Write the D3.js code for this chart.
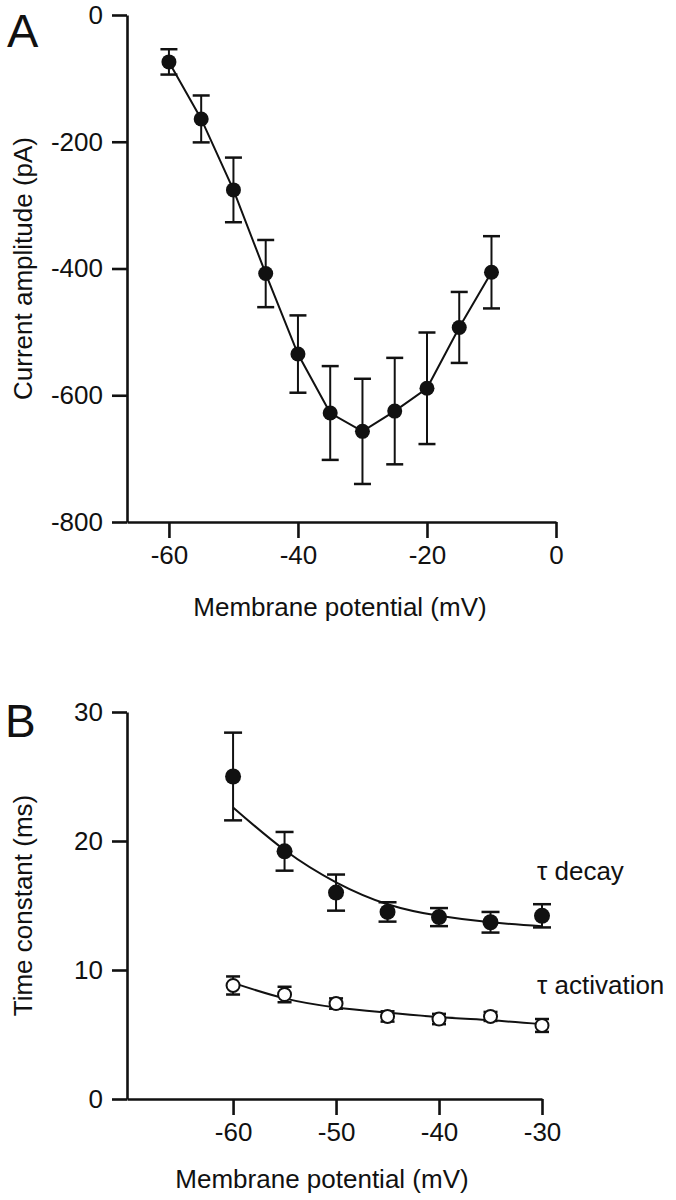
<!DOCTYPE html>
<html>
<head>
<meta charset="utf-8">
<script src="https://cdn.jsdelivr.net/npm/d3@7"></script>
<style>
    body { margin: 0; background: #fff; }
    svg text { font-family: "Liberation Sans", Arial, sans-serif; fill: #111; }
</style>
</head>
<body>
<div id="chart"></div>
<script>
// Panel A: current-voltage relation
const voltageA = [-60, -55, -50, -45, -40, -35, -30, -25, -20, -15, -10];
const currentA = [-74, -164, -276, -408, -535, -628, -657, -625, -589, -493, -406];
const currentErrA = [20, 37, 51, 53, 61, 74, 83, 84, 88, 56, 57];
const yTicksA = [0, -200, -400, -600, -800];
const xTicksA = [-60, -40, -20, 0];

// Panel B: time constants
const voltageB = [-60, -55, -50, -45, -40, -35, -30];
const tauDecay = [25.0, 19.2, 16.0, 14.5, 14.1, 13.7, 14.2];
const tauDecayErr = [3.4, 1.5, 1.4, 0.75, 0.7, 0.8, 0.9];
const tauDecayFit = [22.6, 19.3, 16.8, 15.1, 14.2, 13.7, 13.4];
const tauAct = [8.8, 8.1, 7.4, 6.4, 6.2, 6.4, 5.7];
const tauActErr = [0.7, 0.6, 0.4, 0.4, 0.4, 0.35, 0.5];
const tauActFit = [9.0, 7.8, 7.1, 6.7, 6.35, 6.1, 5.8];
const yTicksB = [0, 10, 20, 30];
const xTicksB = [-60, -50, -40, -30];

const W = 676, H = 1200;
const fontSize = 26;

const svg = d3.select("#chart")
    .append("svg")
    .attr("width", W)
    .attr("height", H);

// draw axes for one panel
function drawAxes(g, x, y, xTicks, yTicks) {
    const xAxis = d3.axisBottom(x)
        .tickValues(xTicks)
        .tickSize(16)
        .tickSizeOuter(0)
        .tickPadding(8)
        .tickFormat(d => String(d));
    const yAxis = d3.axisLeft(y)
        .tickValues(yTicks)
        .tickSize(15)
        .tickSizeOuter(0)
        .tickPadding(9)
        .tickFormat(d => String(d));

    const xg = g.append("g")
        .attr("transform", `translate(0,${y.range()[0]})`)
        .call(xAxis);
    const yg = g.append("g")
        .attr("transform", `translate(${x.range()[0]},0)`)
        .call(yAxis);

    [xg, yg].forEach(a => {
        a.selectAll("path, line")
            .attr("stroke", "#111")
            .attr("stroke-width", 2.6);
        a.selectAll("text")
            .style("font-size", fontSize + "px")
            .attr("fill", "#111");
    });
}

// error bars with caps
function drawErrors(g, pts, x, y, capW) {
    const eb = g.append("g").attr("stroke", "#111").attr("stroke-width", 2);
    pts.forEach(p => {
        eb.append("line")
            .attr("x1", x(p.v)).attr("x2", x(p.v))
            .attr("y1", y(p.m + p.e)).attr("y2", y(p.m - p.e));
        [p.m + p.e, p.m - p.e].forEach(val => {
            eb.append("line")
                .attr("x1", x(p.v) - capW / 2).attr("x2", x(p.v) + capW / 2)
                .attr("y1", y(val)).attr("y2", y(val))
                .attr("stroke-width", 2.5);
        });
    });
}

// ---------- Panel A ----------
const gA = svg.append("g").attr("class", "panel-a");
const xA = d3.scaleLinear().domain([-66.5, 0]).range([127, 556]);
const yA = d3.scaleLinear().domain([-800, 0]).range([522, 15]);

drawAxes(gA, xA, yA, xTicksA, yTicksA);

const ptsA = voltageA.map((v, i) => ({v: v, m: currentA[i], e: currentErrA[i]}));

drawErrors(gA, ptsA, xA, yA, 17);

gA.append("path")
    .datum(ptsA)
    .attr("fill", "none")
    .attr("stroke", "#111")
    .attr("stroke-width", 2)
    .attr("d", d3.line().x(d => xA(d.v)).y(d => yA(d.m)));

gA.selectAll(".dot-a")
    .data(ptsA)
    .join("circle")
    .attr("class", "dot-a")
    .attr("cx", d => xA(d.v))
    .attr("cy", d => yA(d.m))
    .attr("r", 7.5)
    .attr("fill", "#111");

gA.append("text")
    .attr("x", 7).attr("y", 47)
    .style("font-size", "47px")
    .text("A");

gA.append("text")
    .attr("transform", `translate(32,${(yA.range()[0] + yA.range()[1]) / 2}) rotate(-90)`)
    .attr("text-anchor", "middle")
    .style("font-size", fontSize + "px")
    .text("Current amplitude (pA)");

gA.append("text")
    .attr("x", 340).attr("y", 616)
    .attr("text-anchor", "middle")
    .style("font-size", fontSize + "px")
    .text("Membrane potential (mV)");

// ---------- Panel B ----------
const gB = svg.append("g").attr("class", "panel-b");
const xB = d3.scaleLinear().domain([-70.3, -30]).range([127, 542]);
const yB = d3.scaleLinear().domain([0, 30]).range([1099, 712]);

drawAxes(gB, xB, yB, xTicksB, yTicksB);

const ptsDecay = voltageB.map((v, i) => ({v: v, m: tauDecay[i], e: tauDecayErr[i], f: tauDecayFit[i]}));
const ptsAct = voltageB.map((v, i) => ({v: v, m: tauAct[i], e: tauActErr[i], f: tauActFit[i]}));

const fitLine = d3.line()
    .x(d => xB(d.v))
    .y(d => yB(d.f))
    .curve(d3.curveNatural);

drawErrors(gB, ptsDecay, xB, yB, 18);
drawErrors(gB, ptsAct, xB, yB, 14);

[ptsDecay, ptsAct].forEach(pts => {
    gB.append("path")
        .datum(pts)
        .attr("fill", "none")
        .attr("stroke", "#111")
        .attr("stroke-width", 2)
        .attr("d", fitLine);
});

gB.selectAll(".dot-decay")
    .data(ptsDecay)
    .join("circle")
    .attr("class", "dot-decay")
    .attr("cx", d => xB(d.v))
    .attr("cy", d => yB(d.m))
    .attr("r", 8)
    .attr("fill", "#111");

gB.selectAll(".dot-act")
    .data(ptsAct)
    .join("circle")
    .attr("class", "dot-act")
    .attr("cx", d => xB(d.v))
    .attr("cy", d => yB(d.m))
    .attr("r", 6.5)
    .attr("fill", "#fff")
    .attr("stroke", "#111")
    .attr("stroke-width", 2);

gB.append("text")
    .attr("x", 5).attr("y", 737)
    .style("font-size", "46px")
    .text("B");

gB.append("text")
    .attr("transform", `translate(32,${(yB.range()[0] + yB.range()[1]) / 2}) rotate(-90)`)
    .attr("text-anchor", "middle")
    .style("font-size", fontSize + "px")
    .text("Time constant (ms)");

gB.append("text")
    .attr("x", 322).attr("y", 1188)
    .attr("text-anchor", "middle")
    .style("font-size", fontSize + "px")
    .text("Membrane potential (mV)");

gB.append("text")
    .attr("x", 537).attr("y", 880)
    .style("font-size", "26px")
    .text("τ decay");

gB.append("text")
    .attr("x", 537).attr("y", 994)
    .style("font-size", "26px")
    .text("τ activation");
</script>
</body>
</html>
